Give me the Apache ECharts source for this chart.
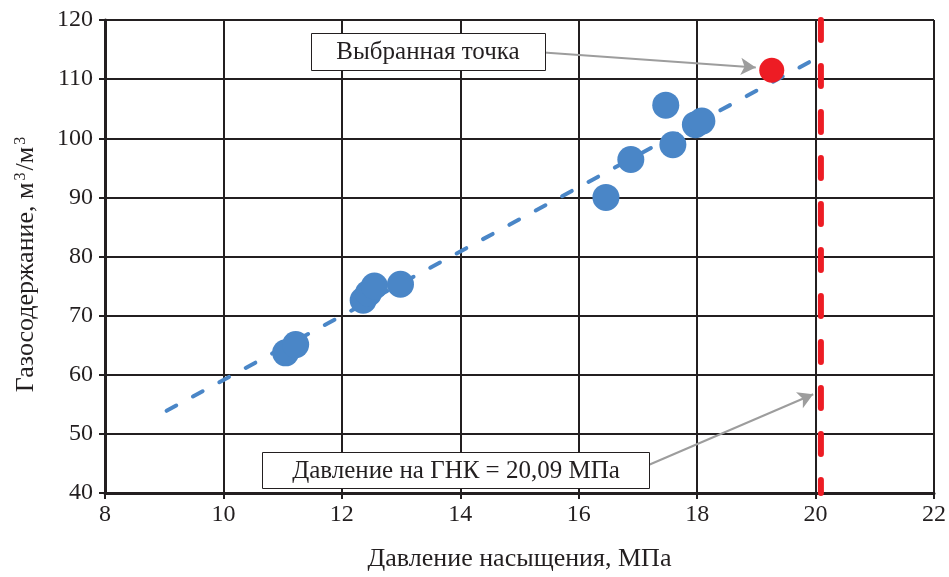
<!DOCTYPE html>
<html><head><meta charset="utf-8">
<script src="https://cdn.jsdelivr.net/npm/echarts@6/dist/echarts.min.js"></script>
<style>html,body{margin:0;padding:0;background:#fff}#c{width:949px;height:577px}</style>
</head><body><div id="c"></div>
<script>
// ---- data ----
const pressure   = [11.05, 11.22, 12.36, 12.45, 12.55, 12.99, 16.46, 16.88, 17.47, 17.59, 17.97, 18.08];
const gasContent = [63.7, 65.1, 72.6, 73.8, 75.0, 75.3, 90.0, 96.4, 105.6, 98.9, 102.3, 102.9];
const selectedPoint = [19.26, 111.5];
const trendX = [9.04, 20.1];
const trendY = [53.9, 114.0];
const gnkPressure = 20.09;
const yRange = [40, 120];
const xRange = [8, 22];
const arrowSelectedFrom = [15.41, 114.5];
const arrowSelectedTo   = [18.99, 111.97];
const arrowGnkFrom = [17.17, 44.7];
const arrowGnkTo   = [19.96, 56.7];
const labelSelected = 'Выбранная точка';
const labelGnk = 'Давление на ГНК = 20,09 МПа';
const xTitle = 'Давление насыщения, МПа';
const yTitleParts = ['Газосодержание, м', '3', '/м', '3'];

// ---- chart ----
const FONT = 'Liberation Serif, Times New Roman, serif';
const INK = '#231f20';
const chart = echarts.init(document.getElementById('c'), null, {renderer: 'canvas'});
const pts = pressure.map((x, i) => [x, gasContent[i]]);

const axisCommon = {
  axisLine: {show: true, lineStyle: {color: INK, width: 3}},
  axisTick: {show: true, inside: false, length: 6, lineStyle: {color: INK, width: 2}},
  splitLine: {show: true, lineStyle: {color: INK, width: 2}},
  axisLabel: {color: INK, fontFamily: FONT, fontSize: 24},
  nameTextStyle: {color: INK, fontFamily: FONT, fontSize: 26},
  nameLocation: 'middle'
};

const yName = '{t|' + yTitleParts[0] + '}{s|' + yTitleParts[1] + '}{t|' + yTitleParts[2] + '}{s|' + yTitleParts[3] + '}';

chart.setOption({
  animation: false,
  backgroundColor: '#fff',
  grid: {left: 105, right: 12, top: 20, bottom: 78, containLabel: false},
  xAxis: Object.assign({}, axisCommon, {
    type: 'value', min: xRange[0], max: xRange[1], interval: 2,
    name: xTitle, nameGap: 53,
    axisLabel: Object.assign({}, axisCommon.axisLabel, {margin: 10})
  }),
  yAxis: Object.assign({}, axisCommon, {
    type: 'value', min: yRange[0], max: yRange[1], interval: 10,
    name: yName, nameGap: 66,
    nameTextStyle: {
      color: INK, fontFamily: FONT, fontSize: 26, padding: [0, 16, 0, 0],
      rich: {
        t: {color: INK, fontFamily: FONT, fontSize: 26, padding: [0, 1, 0, 1]},
        s: {color: INK, fontFamily: FONT, fontSize: 16, verticalAlign: 'top', padding: [0, 1, 10, 1]}
      }
    },
    axisLabel: Object.assign({}, axisCommon.axisLabel, {margin: 12})
  }),
  series: [
    {
      type: 'line', data: [[trendX[0], trendY[0]], [trendX[1], trendY[1]]],
      symbol: 'none', z: 2,
      lineStyle: {color: '#4a86c7', width: 4, type: [11, 19], cap: 'round'}
    },
    {
      type: 'line', data: [[gnkPressure, yRange[1]], [gnkPressure, yRange[0]]],
      symbol: 'none', z: 3,
      lineStyle: {color: '#ed1c24', width: 6, type: [20, 26], cap: 'round'}
    },
    {
      type: 'scatter', data: pts, symbol: 'circle', symbolSize: 27, z: 4,
      itemStyle: {color: '#4a86c7', opacity: 1}
    },
    {
      type: 'scatter', data: [selectedPoint], symbol: 'circle', symbolSize: 25, z: 5,
      itemStyle: {color: '#ed1c24', opacity: 1}
    },
    {
      type: 'scatter', data: [], z: 6,
      markLine: {
        silent: true, animation: false,
        symbol: ['none', 'arrow'], symbolSize: [13, 15],
        label: {show: false},
        lineStyle: {color: '#9d9d9d', width: 2, type: 'solid'},
        data: [
          [{coord: arrowSelectedFrom}, {coord: arrowSelectedTo}],
          [{coord: arrowGnkFrom}, {coord: arrowGnkTo}]
        ]
      }
    }
  ],
  graphic: [
    {type: 'rect', z: 100, shape: {x: 311.5, y: 33.5, width: 234, height: 37},
     style: {fill: '#fff', stroke: INK, lineWidth: 1}},
    {type: 'text', z: 101, x: 428, y: 52,
     style: {text: labelSelected, font: '25px ' + FONT, fill: INK, align: 'center', verticalAlign: 'middle'}},
    {type: 'rect', z: 100, shape: {x: 262.5, y: 452.5, width: 387, height: 36},
     style: {fill: '#fff', stroke: INK, lineWidth: 1}},
    {type: 'text', z: 101, x: 456, y: 471,
     style: {text: labelGnk, font: '25px ' + FONT, fill: INK, align: 'center', verticalAlign: 'middle'}}
  ]
});
</script>
</body></html>
